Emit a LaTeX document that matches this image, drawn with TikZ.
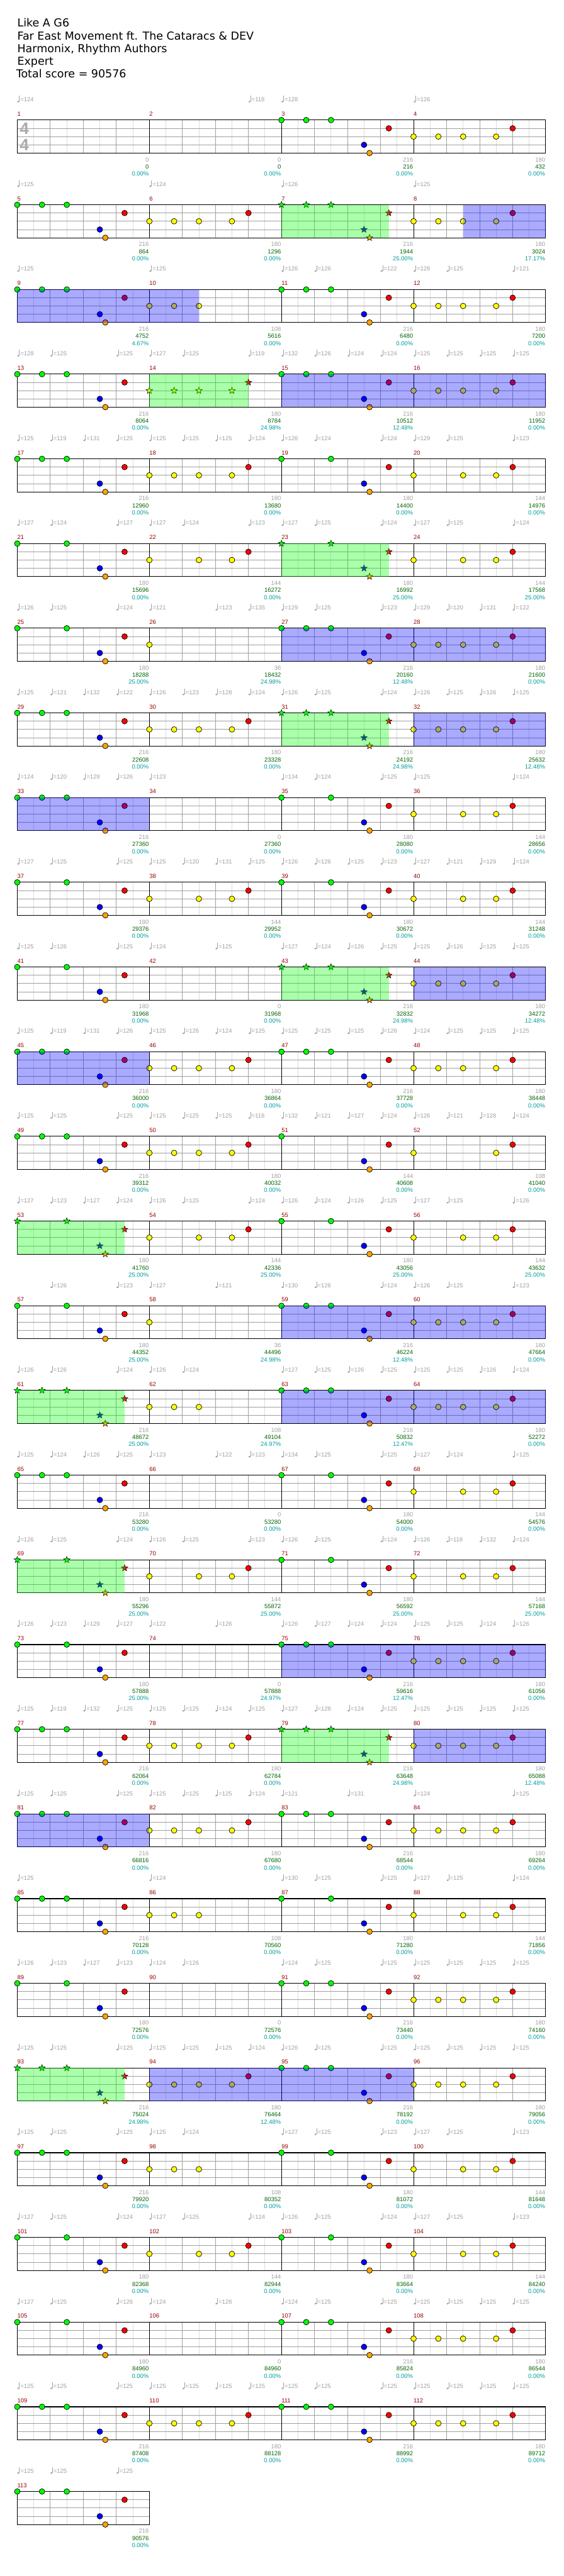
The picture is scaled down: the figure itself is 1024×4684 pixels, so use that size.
\documentclass[tikz,border=0pt]{standalone}
\usepackage{fontspec}
\setmainfont{DejaVu Sans}
\newfontfamily\sfnt{Liberation Sans}
\newfontfamily\bfnt{Liberation Sans Bold}
\definecolor{gdark}{HTML}{A0A0A0}
\definecolor{glight}{HTML}{DCDCDC}
\definecolor{ngreen}{HTML}{00FF00}
\definecolor{nred}{HTML}{FF0000}
\definecolor{nyellow}{HTML}{FFFF00}
\definecolor{nblue}{HTML}{0000FF}
\definecolor{norange}{HTML}{FFA500}
\definecolor{spgreen}{HTML}{00FF00}
\definecolor{spblue}{HTML}{0000FF}
\definecolor{mnumc}{HTML}{990000}
\definecolor{tgray}{HTML}{A0A0A0}
\definecolor{tgreen}{HTML}{006400}
\definecolor{tteal}{HTML}{009C9C}
\definecolor{tsigc}{HTML}{AAAAAA}
\tikzset{
  glt/.style={draw=glight,line width=1pt},
  gdk/.style={draw=gdark,line width=1pt},
  mline/.style={draw=black,line width=1pt},
  border/.style={draw=black,line width=1.2pt},
  notec/.style={draw=black,line width=0.8pt},
  nstar/.style={draw=black,line width=0.6pt},
  smallt/.style={inner sep=0pt,text height=7.6pt,text depth=0pt,font=\sfnt\fontsize{10.8}{12}\selectfont},
  mnum/.style={smallt,anchor=west,text=mnumc},
  sgray/.style={smallt,anchor=east,text=tgray},
  sgreen/.style={smallt,anchor=east,text=tgreen},
  steal/.style={smallt,anchor=east,text=tteal},
  tempo/.style={smallt,anchor=west,text=tgray},
  title/.style={anchor=base west,inner sep=0pt,font=\fontsize{20}{22}\selectfont},
  tsig/.style={inner sep=0pt,text=tsigc,font=\bfnt\fontsize{30}{30}\selectfont},
  spg/.style={fill=spgreen,fill opacity=0.333},
  spb/.style={fill=spblue,fill opacity=0.333},
}
\newcount\tpcnt
\newcommand\RowB[2]{\begin{scope}[shift={(0,{218.33+154*(#1-1)})}]\Staff{#1}{#2}}
\newcommand\RowE{\end{scope}}
\newcommand\Staff[2]{%
  \pgfmathsetmacro\SR{31.33+240*#2}%
  \foreach \j in {1,...,#2}{%
    \pgfmathsetmacro\X{31.33+240*(\j-1)}%
    \foreach \o in {30,90,150,210} \draw[glt] ({\X+\o},0) -- ({\X+\o},60);
  }%
  \foreach \l in {15,30,45} \draw[gdk] (31.33,\l) -- (\SR,\l);
  \foreach \j in {1,...,#2}{%
    \pgfmathsetmacro\X{31.33+240*(\j-1)}%
    \foreach \o in {60,120,180} \draw[gdk] ({\X+\o},0) -- ({\X+\o},60);
    \draw[mline] (\X,0) -- (\X,60);
    \pgfmathtruncatemacro\M{4*(#1-1)+\j}%
    \node[mnum] (mn\M) at (\X,-11.3) {\M};
  }%
  \draw[border] (31.33,0) rectangle (\SR,60);
}
\newcommand\Nt[4]{%
  \if#1s%
    \draw[nstar,fill=#4,shift={({#2},{15*#3})},yscale=-1] (90:6.2) -- (126:2.6) -- (162:6.2) -- (198:2.6) -- (234:6.2) -- (270:2.6) -- (306:6.2) -- (342:2.6) -- (18:6.2) -- (54:2.6) -- cycle;
  \else
    \draw[notec,fill=#4] ({#2},{15*#3}) circle[radius=5.1];
  \fi}
\newcommand\SetX[1]{\pgfmathsetmacro\X{31.33+240*(#1-1)}}
% patterns
\newcommand\PA[2]{\SetX{#2}\Nt#1{\X}{0}{ngreen}\Nt#1{\X+45}{0}{ngreen}\Nt#1{\X+90}{0}{ngreen}\Nt#1{\X+150}{3}{nblue}\Nt#1{\X+160}{4}{norange}\Nt#1{\X+195}{1}{nred}}
\newcommand\PAp[2]{\SetX{#2}\Nt#1{\X}{0}{ngreen}\Nt#1{\X+90}{0}{ngreen}\Nt#1{\X+150}{3}{nblue}\Nt#1{\X+160}{4}{norange}\Nt#1{\X+195}{1}{nred}}
\newcommand\PAq[2]{\SetX{#2}\Nt#1{\X}{0}{ngreen}\Nt#1{\X+150}{3}{nblue}\Nt#1{\X+160}{4}{norange}\Nt#1{\X+195}{1}{nred}}
\newcommand\PB[2]{\SetX{#2}\Nt#1{\X}{2}{nyellow}\Nt#1{\X+45}{2}{nyellow}\Nt#1{\X+90}{2}{nyellow}\Nt#1{\X+150}{2}{nyellow}\Nt#1{\X+180}{1}{nred}}
\newcommand\PBp[2]{\SetX{#2}\Nt#1{\X}{2}{nyellow}\Nt#1{\X+90}{2}{nyellow}\Nt#1{\X+150}{2}{nyellow}\Nt#1{\X+180}{1}{nred}}
\newcommand\PBq[2]{\SetX{#2}\Nt#1{\X}{2}{nyellow}\Nt#1{\X+150}{2}{nyellow}\Nt#1{\X+180}{1}{nred}}
\newcommand\PC[2]{\SetX{#2}\Nt#1{\X}{2}{nyellow}}
\newcommand\PD[2]{\SetX{#2}\Nt#1{\X}{2}{nyellow}\Nt#1{\X+45}{2}{nyellow}\Nt#1{\X+90}{2}{nyellow}}
% overlays
\newcommand\OvG[4]{\fill[spg] ({31.33+240*(#1-1)+#2},0) rectangle ({31.33+240*(#3-1)+#4},60);}
\newcommand\OvB[4]{\fill[spb] ({31.33+240*(#1-1)+#2},0) rectangle ({31.33+240*(#3-1)+#4},60);}
% tempos
\newcommand\Tempos[1]{%
  \foreach \q/\v in {#1}{%
    \pgfmathsetmacro\X{31.33+30*\q}%
    \global\advance\tpcnt by 1
    \fill[tgray,rotate around={20:({\X+2},-33.6)}] ({\X+2},-33.6) ellipse[x radius=2.2, y radius=1.6];
    \draw[tgray,line width=0.7pt] ({\X+3.8},-34) -- ({\X+3.8},-44.3);
    \node[tempo] (tp\the\tpcnt) at ({\X+5.6},-37.3) {=\v};
  }}
% scores
\newcommand\Scores[2]{%
  \foreach \g/\s/\p [count=\j] in {#2}{%
    \pgfmathsetmacro\X{31.33+240*\j-0.8}%
    \pgfmathtruncatemacro\M{4*(#1-1)+\j}%
    \node[sgray] (g\M) at (\X,72) {\g};
    \node[sgreen] (s\M) at (\X,85) {\s};
    \node[steal] (p\M) at (\X,97.7) {\p\%};
  }}
\begin{document}
\begin{tikzpicture}[x=1pt,y=-1pt]
\useasboundingbox[fill=white] (0,0) rectangle (1024,4684);
\node[title] (l1) at (31.3,49) {Like A G6};
\node[title] (l2) at (31.3,72.3) {Far East Movement ft. The Cataracs \& DEV};
\node[title] (l3) at (31.3,95.3) {Harmonix, Rhythm Authors};
\node[title] (l4) at (31.3,118.3) {Expert};
\node[title] (l5) at (29.3,141.3) {Total score = 90576};
% Row 1
\RowB{1}{4}
\node[tsig] (ts1) at (44.2,16) {4};
\node[tsig] (ts2) at (44.2,45.5) {4};
\PA{c}{3}\PB{c}{4}
\Tempos{0/124,14/118,16/128,24/126}
\Scores{1}{0/0/0.00,0/0/0.00,216/216/0.00,180/432/0.00}
\RowE
% Row 2
\RowB{2}{4}
\PA{c}{1}\PB{c}{2}\PA{s}{3}\PB{c}{4}
\OvG{3}{0}{3}{195}\OvB{4}{90}{4}{240}
\Tempos{0/125,8/124,16/126,24/125}
\Scores{2}{216/864/0.00,180/1296/0.00,216/1944/25.00,180/3024/17.17}
\RowE
% Row 3
\RowB{3}{4}
\PA{c}{1}\PD{c}{2}\PA{c}{3}\PB{c}{4}
\OvB{1}{0}{2}{90}
\Tempos{0/125,8/125,16/126,18/126,22/122,24/128,26/125,30/121}
\Scores{3}{216/4752/4.67,108/5616/0.00,216/6480/0.00,180/7200/0.00}
\RowE
% Row 4
\RowB{4}{4}
\PA{c}{1}\PB{s}{2}\PA{c}{3}\PB{c}{4}
\OvG{2}{0}{2}{180}\OvB{3}{0}{4}{240}
\Tempos{0/128,2/125,6/125,8/127,10/125,14/119,16/132,18/126,20/124,22/124,24/125,26/125,28/125,30/125}
\Scores{4}{216/8064/0.00,180/8784/24.98,216/10512/12.48,180/11952/0.00}
\RowE
% Row 5
\RowB{5}{4}
\PA{c}{1}\PB{c}{2}\PAp{c}{3}\PBp{c}{4}
\Tempos{0/125,2/119,4/131,6/125,8/125,10/125,12/125,14/124,16/126,18/124,22/124,24/129,26/125,30/123}
\Scores{5}{216/12960/0.00,180/13680/0.00,180/14400/0.00,144/14976/0.00}
\RowE
% Row 6
\RowB{6}{4}
\PAp{c}{1}\PBp{c}{2}\PAp{s}{3}\PBp{c}{4}
\OvG{3}{0}{3}{195}
\Tempos{0/127,2/124,6/127,8/127,10/124,14/123,16/127,18/125,22/124,24/127,26/125,30/124}
\Scores{6}{180/15696/0.00,144/16272/0.00,180/16992/25.00,144/17568/25.00}
\RowE
% Row 7
\RowB{7}{4}
\PAp{c}{1}\PC{c}{2}\PA{c}{3}\PB{c}{4}
\OvB{3}{0}{4}{240}
\Tempos{0/126,2/125,6/124,8/121,12/123,14/135,16/129,18/125,22/123,24/129,26/120,28/131,30/122}
\Scores{7}{180/18288/25.00,36/18432/24.98,216/20160/12.48,180/21600/0.00}
\RowE
% Row 8
\RowB{8}{4}
\PA{c}{1}\PB{c}{2}\PA{s}{3}\PB{c}{4}
\OvG{3}{0}{3}{195}\OvB{4}{0}{4}{240}
\Tempos{0/125,2/121,4/132,6/122,8/126,10/123,12/128,14/124,16/126,18/125,22/124,24/126,26/125,28/126,30/125}
\Scores{8}{216/22608/0.00,180/23328/0.00,216/24192/24.98,180/25632/12.48}
\RowE
% Row 9
\RowB{9}{4}
\PA{c}{1}\PAp{c}{3}\PBp{c}{4}
\OvB{1}{0}{2}{0}
\Tempos{0/124,2/120,4/129,6/126,8/123,16/134,18/124,22/125,24/125,30/124}
\Scores{9}{216/27360/0.00,0/27360/0.00,180/28080/0.00,144/28656/0.00}
\RowE
% Row 10
\RowB{10}{4}
\PAp{c}{1}\PBp{c}{2}\PAp{c}{3}\PBp{c}{4}
\Tempos{0/127,2/125,6/125,8/125,10/120,12/131,14/125,16/126,18/126,20/125,22/123,24/127,26/121,28/129,30/124}
\Scores{10}{180/29376/0.00,144/29952/0.00,180/30672/0.00,144/31248/0.00}
\RowE
% Row 11
\RowB{11}{4}
\PAp{c}{1}\PA{s}{3}\PB{c}{4}
\OvG{3}{0}{3}{195}\OvB{4}{0}{4}{240}
\Tempos{0/125,2/126,6/125,8/124,12/125,16/127,18/124,20/126,22/125,24/125,26/126,28/125,30/125}
\Scores{11}{180/31968/0.00,0/31968/0.00,216/32832/24.98,180/34272/12.48}
\RowE
% Row 12
\RowB{12}{4}
\PA{c}{1}\PB{c}{2}\PA{c}{3}\PB{c}{4}
\OvB{1}{0}{2}{0}
\Tempos{0/125,2/119,4/131,6/126,8/125,10/126,12/124,14/125,16/125,18/125,20/125,22/126,24/124,26/125,28/125,30/125}
\Scores{12}{216/36000/0.00,180/36864/0.00,216/37728/0.00,180/38448/0.00}
\RowE
% Row 13
\RowB{13}{4}
\PA{c}{1}\PB{c}{2}\PAq{c}{3}\PBq{c}{4}
\Tempos{0/125,2/125,6/125,8/125,10/125,12/125,14/118,16/132,18/121,20/127,22/124,24/126,26/121,28/128,30/124}
\Scores{13}{216/39312/0.00,180/40032/0.00,144/40608/0.00,108/41040/0.00}
\RowE
% Row 14
\RowB{14}{4}
\PAp{s}{1}\PBp{c}{2}\PAp{c}{3}\PBp{c}{4}
\OvG{1}{0}{1}{195}
\Tempos{0/127,2/123,4/127,6/124,8/126,10/125,14/124,16/126,18/124,20/126,22/125,24/127,26/125,30/126}
\Scores{14}{180/41760/25.00,144/42336/25.00,180/43056/25.00,144/43632/25.00}
\RowE
% Row 15
\RowB{15}{4}
\PAp{c}{1}\PC{c}{2}\PA{c}{3}\PB{c}{4}
\OvB{3}{0}{4}{240}
\Tempos{2/126,6/123,8/127,12/121,16/130,18/126,22/124,24/126,26/125,30/123}
\Scores{15}{180/44352/25.00,36/44496/24.98,216/46224/12.48,180/47664/0.00}
\RowE
% Row 16
\RowB{16}{4}
\PA{s}{1}\PD{c}{2}\PA{c}{3}\PB{c}{4}
\OvG{1}{0}{1}{195}\OvB{3}{0}{4}{240}
\Tempos{0/126,2/126,6/124,8/126,10/124,16/127,18/125,20/126,22/125,24/125,26/125,28/126,30/124}
\Scores{16}{216/48672/25.00,108/49104/24.97,216/50832/12.47,180/52272/0.00}
\RowE
% Row 17
\RowB{17}{4}
\PA{c}{1}\PAp{c}{3}\PBp{c}{4}
\Tempos{0/125,2/124,4/126,6/125,8/123,12/122,14/123,16/134,18/125,22/125,24/127,26/124,30/125}
\Scores{17}{216/53280/0.00,0/53280/0.00,180/54000/0.00,144/54576/0.00}
\RowE
% Row 18
\RowB{18}{4}
\PAp{s}{1}\PBp{c}{2}\PAp{c}{3}\PBp{c}{4}
\OvG{1}{0}{1}{195}
\Tempos{0/126,2/125,6/124,8/126,10/125,14/123,16/126,18/125,22/124,24/126,26/118,28/132,30/124}
\Scores{18}{180/55296/25.00,144/55872/25.00,180/56592/25.00,144/57168/25.00}
\RowE
% Row 19
\RowB{19}{4}
\PAp{c}{1}\PA{c}{3}\PB{c}{4}
\OvB{3}{0}{4}{240}
\Tempos{0/126,2/123,4/129,6/127,8/122,12/126,16/126,18/127,20/124,22/124,24/125,26/125,28/124,30/126}
\Scores{19}{180/57888/25.00,0/57888/24.97,216/59616/12.47,180/61056/0.00}
\RowE
% Row 20
\RowB{20}{4}
\PA{c}{1}\PB{c}{2}\PA{s}{3}\PB{c}{4}
\OvG{3}{0}{3}{195}\OvB{4}{0}{4}{240}
\Tempos{0/125,2/119,4/132,6/125,8/125,10/125,12/124,14/125,16/127,18/128,20/124,22/125,24/125,26/125,28/125,30/125}
\Scores{20}{216/62064/0.00,180/62784/0.00,216/63648/24.98,180/65088/12.48}
\RowE
% Row 21
\RowB{21}{4}
\PA{c}{1}\PB{c}{2}\PA{c}{3}\PB{c}{4}
\OvB{1}{0}{2}{0}
\Tempos{0/125,2/125,6/125,8/125,10/125,12/125,14/124,16/121,20/131,24/124,30/125}
\Scores{21}{216/66816/0.00,180/67680/0.00,216/68544/0.00,180/69264/0.00}
\RowE
% Row 22
\RowB{22}{4}
\PA{c}{1}\PD{c}{2}\PAp{c}{3}\PBp{c}{4}
\Tempos{0/125,8/124,16/130,18/125,22/125,24/127,26/125,30/124}
\Scores{22}{216/70128/0.00,108/70560/0.00,180/71280/0.00,144/71856/0.00}
\RowE
% Row 23
\RowB{23}{4}
\PAp{c}{1}\PA{c}{3}\PB{c}{4}
\Tempos{0/126,2/123,4/127,6/123,8/124,10/126,16/124,18/125,22/125,24/125,26/125,28/125,30/125}
\Scores{23}{180/72576/0.00,0/72576/0.00,216/73440/0.00,180/74160/0.00}
\RowE
% Row 24
\RowB{24}{4}
\PA{s}{1}\PB{c}{2}\PA{c}{3}\PB{c}{4}
\OvG{1}{0}{1}{195}\OvB{2}{0}{4}{0}
\Tempos{0/125,2/125,6/125,8/125,10/125,12/125,14/124,16/126,18/125,22/125,24/125,26/125,28/125,30/125}
\Scores{24}{216/75024/24.98,180/76464/12.48,216/78192/0.00,180/79056/0.00}
\RowE
% Row 25
\RowB{25}{4}
\PA{c}{1}\PD{c}{2}\PAp{c}{3}\PBp{c}{4}
\Tempos{0/125,2/125,6/125,8/125,10/124,16/127,18/125,22/123,24/127,26/125,30/123}
\Scores{25}{216/79920/0.00,108/80352/0.00,180/81072/0.00,144/81648/0.00}
\RowE
% Row 26
\RowB{26}{4}
\PAp{c}{1}\PBp{c}{2}\PAp{c}{3}\PBp{c}{4}
\Tempos{0/127,2/125,6/124,8/127,10/125,14/124,16/126,18/125,22/124,24/127,26/125,30/123}
\Scores{26}{180/82368/0.00,144/82944/0.00,180/83664/0.00,144/84240/0.00}
\RowE
% Row 27
\RowB{27}{4}
\PAp{c}{1}\PA{c}{3}\PB{c}{4}
\Tempos{0/127,2/125,6/126,8/124,12/126,16/124,18/125,22/125,24/125,26/125,28/125,30/125}
\Scores{27}{180/84960/0.00,0/84960/0.00,216/85824/0.00,180/86544/0.00}
\RowE
% Row 28
\RowB{28}{4}
\PA{c}{1}\PB{c}{2}\PA{c}{3}\PB{c}{4}
\Tempos{0/125,2/125,6/125,8/125,10/125,12/125,14/125,16/125,18/125,22/125,24/125,26/125,28/125,30/125}
\Scores{28}{216/87408/0.00,180/88128/0.00,216/88992/0.00,180/89712/0.00}
\RowE
% Row 29
\RowB{29}{1}
\PA{c}{1}
\Tempos{0/125,2/125,6/125}
\Scores{29}{216/90576/0.00}
\RowE
\end{tikzpicture}
\end{document}
